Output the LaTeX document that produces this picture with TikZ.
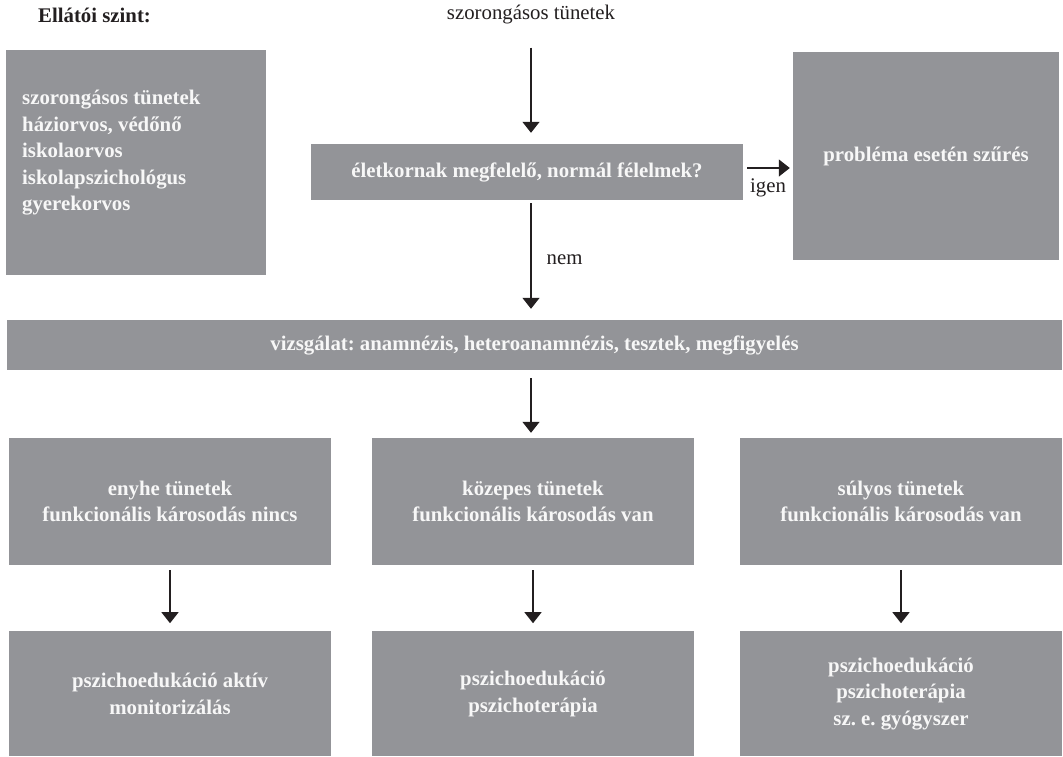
\documentclass[tikz,border=0pt]{standalone}
\usepackage{fontspec}
\setmainfont{Liberation Serif}
\usetikzlibrary{arrows.meta, positioning}
\definecolor{inkcolor}{HTML}{231F20}
\definecolor{boxfill}{HTML}{939498}
\definecolor{boxtext}{HTML}{F7F7F7}
\newcommand{\flowfont}{\fontsize{20.8}{26.5}\selectfont}
\frenchspacing

\begin{document}
\begin{tikzpicture}[x=1pt, y=-1pt, every node/.style={font=\flowfont}]

\tikzset{
  flowline/.style={-{Triangle[width=17pt, length=11pt]}, inkcolor, line width=1.3pt},
  greybox/.style={rectangle, fill=boxfill, text=boxtext, font=\flowfont\bfseries,
    align=center, inner sep=0pt},
  rowbox/.style={greybox, minimum width=322pt, minimum height=127pt},
  carebox/.style={greybox, minimum width=322pt, minimum height=125pt},
  plaintext/.style={text=inkcolor, inner sep=3pt},
}

\useasboundingbox (0,0) rectangle (1063,756);

% ---- header ----
\node[plaintext, font=\flowfont\bfseries, anchor=west] (levelhead) at (35,15) {Ellátói szint:};
\node[plaintext] (symptoms) at (531,15) {szorongásos tünetek};

% ---- top row: care level, question, screening ----
\node[greybox, minimum width=260pt, minimum height=225pt] (levels) at (136,162.5) {};
\node[greybox, align=left, anchor=west, fill=none] (levelslist) at (22,153)
  {szorongásos tünetek\\háziorvos, védőnő\\iskolaorvos\\iskolapszichológus\\gyerekorvos};
\node[greybox, minimum width=432pt, minimum height=56pt] (decision) at (527,172)
  {életkornak megfelelő, normál félelmek?};
\node[greybox, minimum width=266pt, minimum height=208pt] (screen) at (926,156)
  {probléma esetén szűrés};

\draw[flowline, shorten <=20pt, shorten >=11pt] (symptoms.south) -- (symptoms.south |- decision.north);
\coordinate (igenstart) at ([yshift=4pt]decision.east);
\draw[flowline, shorten <=4pt, shorten >=3pt] (igenstart) -- (igenstart -| screen.west)
  node[plaintext, midway, below=7pt] (yeslabel) {igen};

% ---- examination bar ----
\node[greybox, minimum width=1055pt, minimum height=50pt] (exam) at (534.5,345)
  {vizsgálat: anamnézis, heteroanamnézis, tesztek, megfigyelés};
\draw[flowline, shorten <=3pt, shorten >=11pt] (decision.south -| symptoms) -- (symptoms |- exam.north)
  node[plaintext, midway, right=12pt] (nolabel) {nem};

% ---- severity row ----
\node[rowbox] (mild)     at (170,501.5) {enyhe tünetek\\funkcionális károsodás nincs};
\node[rowbox] (moderate) at (533,501.5) {közepes tünetek\\funkcionális károsodás van};
\node[rowbox] (severe)   at (901,501.5) {súlyos tünetek\\funkcionális károsodás van};
\draw[flowline, shorten <=8pt, shorten >=5pt] (exam.south -| symptoms) -- (symptoms |- moderate.north);

% ---- treatment row ----
\node[carebox, below=66pt of mild]     (mildcare)     {pszichoedukáció aktív\\monitorizálás};
\node[carebox, below=66pt of moderate] (moderatecare) {pszichoedukáció\\pszichoterápia};
\node[carebox, below=66pt of severe]   (severecare)   {pszichoedukáció\\pszichoterápia\\sz. e. gyógyszer};
\draw[flowline, shorten <=5pt, shorten >=8pt] (mild) -- (mildcare);
\draw[flowline, shorten <=5pt, shorten >=8pt] (moderate) -- (moderatecare);
\draw[flowline, shorten <=5pt, shorten >=8pt] (severe) -- (severecare);

\end{tikzpicture}
\end{document}
